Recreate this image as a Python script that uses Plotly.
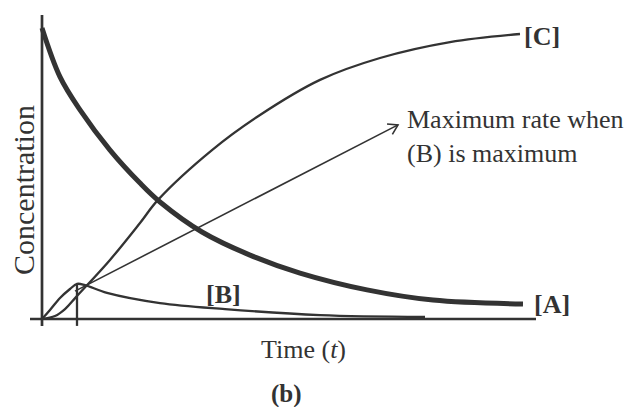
import numpy as np
import plotly.graph_objects as go

# concentration vs time
t_a = [0.0, 0.36, 0.76, 1.36, 1.96, 2.36, 3.2, 4.16, 5.16, 6.5, 7.82, 9.62]
conc_a = [0.97, 0.807, 0.697, 0.563, 0.453, 0.39, 0.29, 0.213, 0.153, 0.097, 0.063, 0.05]

t_b = [0.0, 0.16, 0.36, 0.56, 0.7, 0.86, 1.3, 2.36, 3.66, 5.56, 7.66]
conc_b = [0.0, 0.03, 0.07, 0.1, 0.117, 0.113, 0.087, 0.053, 0.033, 0.013, 0.007]

t_c = [0.0, 0.26, 0.46, 0.68, 1.36, 1.96, 2.32, 3.4, 4.36, 5.56, 6.76, 8.16, 9.56]
conc_c = [0.0, 0.01, 0.033, 0.073, 0.197, 0.32, 0.397, 0.563, 0.68, 0.797, 0.87, 0.923, 0.95]

# arrow from the [B] maximum towards the note
arrow_t = [0.66, 7.12]
arrow_c = [0.093, 0.647]

ink = '#333333'
serif = 'Liberation Serif, Times New Roman, serif'

fig = go.Figure()
fig.add_trace(go.Scatter(x=t_a, y=conc_a, mode='lines', line=dict(color=ink, width=5, shape='spline'), showlegend=False))
fig.add_trace(go.Scatter(x=t_c, y=conc_c, mode='lines', line=dict(color=ink, width=2.3, shape='spline'), showlegend=False))
fig.add_trace(go.Scatter(x=t_b, y=conc_b, mode='lines', line=dict(color=ink, width=2.3, shape='spline'), showlegend=False))
fig.add_trace(go.Scatter(x=arrow_t, y=arrow_c, mode='lines', line=dict(color=ink, width=1.6), showlegend=False))

# open arrow head (computed in pixel space: 50 px per time unit, 300 px per conc unit)
sx, sy = 50.0, 300.0
dx = (arrow_t[1] - arrow_t[0]) * sx
dy = (arrow_c[1] - arrow_c[0]) * sy
ang = np.arctan2(dy, dx)
head_t, head_c = [], []
for s in (1, -1):
    a = ang + np.pi - s * np.radians(32)
    head_t.append(arrow_t[1] + 11 * np.cos(a) / sx)
    head_c.append(arrow_c[1] + 11 * np.sin(a) / sy)
fig.add_trace(go.Scatter(x=[head_t[0], arrow_t[1], head_t[1]], y=[head_c[0], arrow_c[1], head_c[1]],
                         mode='lines', line=dict(color=ink, width=1.6), showlegend=False))

# axes drawn by hand like the textbook figure
fig.add_shape(type='line', x0=0, x1=0, y0=-0.023, y1=1.013, line=dict(color=ink, width=2.7))
fig.add_shape(type='line', x0=-0.24, x1=9.88, y0=0, y1=0, line=dict(color=ink, width=2.7))

# marker at the time of maximum [B]
i_max = int(np.argmax(conc_b))
fig.add_shape(type='line', x0=t_b[i_max], x1=t_b[i_max], y0=conc_b[i_max], y1=-0.023,
              line=dict(color=ink, width=2.3))

lbl = dict(family=serif, size=26, color=ink)
fig.add_annotation(x=9.6, y=0.943, text='<b>[C]</b>', showarrow=False, xanchor='left', yanchor='middle', font=lbl)
fig.add_annotation(x=9.8, y=0.05, text='<b>[A]</b>', showarrow=False, xanchor='left', yanchor='middle', font=lbl)
fig.add_annotation(x=3.24, y=0.083, text='<b>[B]</b>', showarrow=False, xanchor='left', yanchor='middle', font=lbl)
fig.add_annotation(x=7.26, y=0.607, text='Maximum rate when<br>(B) is maximum', showarrow=False,
                   xanchor='left', yanchor='middle', align='left', font=lbl)

fig.add_annotation(x=-0.38, y=0.43, text='Concentration', textangle=-90, showarrow=False,
                   xanchor='center', yanchor='middle', font=dict(family=serif, size=30, color=ink))
fig.add_annotation(x=5.23, y=-0.103, text='Time (<i>t</i>)', showarrow=False,
                   xanchor='center', yanchor='middle', font=lbl)
fig.add_annotation(x=4.88, y=-0.25, text='<b>(b)</b>', showarrow=False,
                   xanchor='center', yanchor='middle', font=dict(family=serif, size=25, color=ink))

# plot area fills the page: 50 px per time unit, 300 px per concentration unit
fig.update_xaxes(range=[-0.84, 11.82], visible=False)
fig.update_yaxes(range=[-0.2933, 1.0633], visible=False)
fig.update_layout(
    width=633, height=407,
    margin=dict(l=0, r=0, t=0, b=0),
    paper_bgcolor='white', plot_bgcolor='white',
)

fig.write_html("out.html", config={'displayModeBar': False},
               post_script="document.body.style.margin='0';")
